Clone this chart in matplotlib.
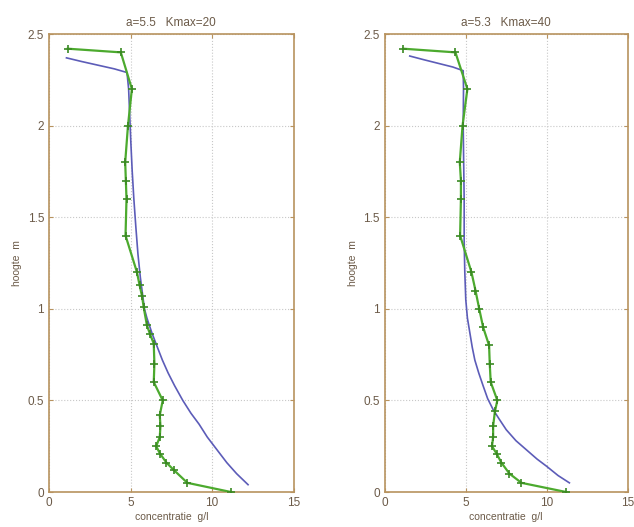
import matplotlib
matplotlib.use('Agg')
import matplotlib.pyplot as plt
from matplotlib.ticker import FuncFormatter

# ── Gegevens links: a=5.5, Kmax=20 ─────────────────────────────────────────
L_MEET_C = [1.15, 4.4, 5.08, 4.84, 4.67, 4.71, 4.75, 4.69, 5.39, 5.55, 5.7, 5.8,
            6.0, 6.2, 6.42, 6.46, 6.42, 6.97, 6.79, 6.83, 6.79, 6.57, 6.8, 7.2,
            7.65, 8.48, 11.15]
L_MEET_H = [2.42, 2.40, 2.20, 2.00, 1.80, 1.70, 1.60, 1.40, 1.20, 1.13, 1.07, 1.01,
            0.91, 0.86, 0.81, 0.70, 0.60, 0.50, 0.42, 0.36, 0.30, 0.25, 0.21, 0.16,
            0.12, 0.05, 0.00]
L_MODEL_C = [1.07, 2.0, 3.0, 4.0, 4.78, 4.88, 4.95, 5.02, 5.1, 5.2, 5.32, 5.45,
             5.6, 5.85, 6.0, 6.3, 6.6, 6.95, 7.3, 7.7, 8.2, 8.7, 9.2, 9.7, 10.3,
             10.9, 11.5, 12.2]
L_MODEL_H = [2.37, 2.35, 2.33, 2.31, 2.29, 2.20, 2.05, 1.90, 1.75, 1.60, 1.45, 1.30,
             1.17, 1.00, 0.95, 0.87, 0.80, 0.72, 0.65, 0.58, 0.50, 0.43, 0.37, 0.30,
             0.23, 0.16, 0.10, 0.04]

# ── Gegevens rechts: a=5.3, Kmax=40 ────────────────────────────────────────
R_MEET_C = [1.13, 4.36, 5.1, 4.8, 4.63, 4.7, 4.7, 4.65, 5.35, 5.6, 5.83, 6.07,
            6.44, 6.48, 6.54, 6.95, 6.8, 6.69, 6.69, 6.62, 6.9, 7.2, 7.7, 8.44, 11.2]
R_MEET_H = [2.42, 2.40, 2.20, 2.00, 1.80, 1.70, 1.60, 1.40, 1.20, 1.10, 1.00, 0.90,
            0.80, 0.70, 0.60, 0.50, 0.44, 0.36, 0.30, 0.25, 0.21, 0.16, 0.10, 0.05, 0.00]
R_MODEL_C = [1.54, 2.4, 3.3, 4.2, 4.84, 4.86, 4.84, 4.87, 4.9, 4.9, 4.94, 5.0,
             5.1, 5.25, 5.4, 5.56, 5.8, 6.07, 6.35, 6.69, 7.05, 7.5, 8.1, 8.75,
             9.4, 10.0, 10.7, 11.4]
R_MODEL_H = [2.38, 2.36, 2.34, 2.32, 2.30, 2.20, 2.00, 1.80, 1.60, 1.37, 1.20, 1.05,
             0.95, 0.87, 0.79, 0.72, 0.65, 0.58, 0.51, 0.45, 0.40, 0.34, 0.28, 0.23,
             0.18, 0.14, 0.09, 0.05]

TITELS = ["a=5.5   Kmax=20", "a=5.3   Kmax=40"]
X_TICKS = [0, 5, 10, 15]
Y_TICKS = [0, 0.5, 1, 1.5, 2, 2.5]

GROEN = "#4caa2e"
BLAUW = "#5c5cb8"
RAND = "#b8935f"
TEKST = "#6b5a48"

plt.rcParams['font.family'] = ['Liberation Sans', 'DejaVu Sans']

fig = plt.figure(figsize=(6.34, 5.27), dpi=100)
fig.patch.set_facecolor('white')

posities = [[0.0773, 0.0664, 0.386, 0.869], [0.607, 0.0664, 0.383, 0.869]]
data = [(L_MEET_C, L_MEET_H, L_MODEL_C, L_MODEL_H),
        (R_MEET_C, R_MEET_H, R_MODEL_C, R_MODEL_H)]

fmt = FuncFormatter(lambda v, p: f"{v:g}")

for pos, titel, (mc, mh, bc, bh) in zip(posities, TITELS, data):
    ax = fig.add_axes(pos)
    ax.plot(bc, bh, color=BLAUW, lw=1.2, zorder=3)
    ax.plot(mc, mh, color=GROEN, lw=1.6, marker='+', ms=6, mew=1.2,
            mec="#3a8a22", zorder=4)
    ax.set_xlim(0, 15)
    ax.set_ylim(0, 2.5)
    ax.set_xticks(X_TICKS)
    ax.set_yticks(Y_TICKS)
    ax.xaxis.set_major_formatter(fmt)
    ax.yaxis.set_major_formatter(fmt)
    ax.grid(True, linestyle=':', color='#c8c8c8', lw=0.8)
    ax.tick_params(direction='in', top=True, right=True, length=3,
                   colors=RAND, labelcolor=TEKST, labelsize=8.5)
    for s in ax.spines.values():
        s.set_color(RAND)
        s.set_linewidth(1.2)
    ax.set_title(titel, fontsize=8.5, color=TEKST, pad=6)
    ax.set_xlabel('concentratie  g/l', fontsize=7.5, color=TEKST, labelpad=2)
    ax.set_ylabel('hoogte  m', fontsize=7.5, color=TEKST, labelpad=4)

fig.savefig('out.png', dpi=100, facecolor='white')
